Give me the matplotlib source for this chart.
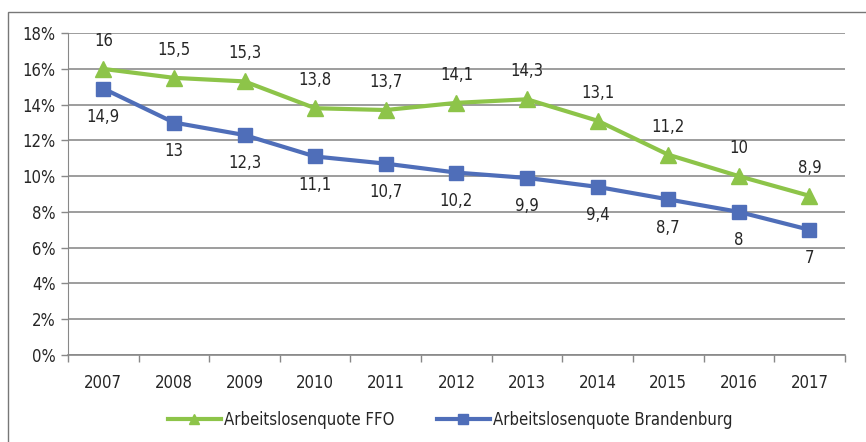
import matplotlib
matplotlib.use("Agg")
import matplotlib.pyplot as plt
from matplotlib.patches import Rectangle
from matplotlib.ticker import FixedLocator

plt.rcParams['font.family'] = ['DejaVu Sans']
plt.rcParams['font.stretch'] = 'condensed'

years = ['2007', '2008', '2009', '2010', '2011', '2012', '2013', '2014', '2015', '2016', '2017']
ffo = [16, 15.5, 15.3, 13.8, 13.7, 14.1, 14.3, 13.1, 11.2, 10, 8.9]
brb = [14.9, 13, 12.3, 11.1, 10.7, 10.2, 9.9, 9.4, 8.7, 8, 7]
yticks = [0, 2, 4, 6, 8, 10, 12, 14, 16, 18]

green = '#8DC449'
blue = '#4F6EB9'
txt = '#262626'

fig = plt.figure(figsize=(8.66, 4.42), dpi=100)
ax = fig.add_axes([0.0785, 0.197, 0.897, 0.728])

x = list(range(len(years)))
ax.plot(x, ffo, color=green, lw=3, marker='^', ms=11, label='Arbeitslosenquote FFO', zorder=3)
ax.plot(x, brb, color=blue, lw=3, marker='s', ms=10.5, label='Arbeitslosenquote Brandenburg', zorder=3)

def fmt(v):
    return ('%g' % v).replace('.', ',')

for xi, v in zip(x, ffo):
    ax.annotate(fmt(v), (xi, v), xytext=(0, 0.75 * 27), textcoords='offset points',
                ha='center', va='center', fontsize=12, color=txt)
for xi, v in zip(x, brb):
    ax.annotate(fmt(v), (xi, v), xytext=(0, -0.75 * 27), textcoords='offset points',
                ha='center', va='center', fontsize=12, color=txt)

ax.set_xlim(-0.5, len(years) - 0.5)
ax.set_ylim(0, 18)
ax.set_yticks(yticks)
ax.set_yticklabels(['%d%%' % t for t in yticks], fontsize=12, color=txt)
ax.set_xticks(x)
ax.set_xticklabels(years, fontsize=12, color=txt)
ax.tick_params(axis='x', which='major', length=0, pad=14)
ax.xaxis.set_minor_locator(FixedLocator([i - 0.5 for i in range(len(years) + 1)]))
ax.tick_params(axis='x', which='minor', length=5, direction='out', color='#888888', width=1)
ax.tick_params(axis='y', length=5, direction='out', color='#888888', width=1, pad=4)
ax.grid(axis='y', color='#8C8C8C', lw=1.2)
ax.set_axisbelow(True)
for s in ['top', 'right']:
    ax.spines[s].set_visible(False)
ax.spines['left'].set_color('#888888')
ax.spines['bottom'].set_color('#888888')
ax.spines['bottom'].set_linewidth(1.2)

leg = fig.legend(loc='center', bbox_to_anchor=(0.52, 0.05), ncol=2, frameon=False,
                 fontsize=12, handlelength=3.2, columnspacing=2.5, handletextpad=0.2,
                 markerscale=0.7)
for t in leg.get_texts():
    t.set_color(txt)

fig.patches.append(Rectangle((8 / 866, -0.05), 1.1, 1 - 12 / 442 + 0.05,
                             transform=fig.transFigure, fill=False,
                             edgecolor='#777777', lw=1))

fig.savefig('out.png', dpi=100)
